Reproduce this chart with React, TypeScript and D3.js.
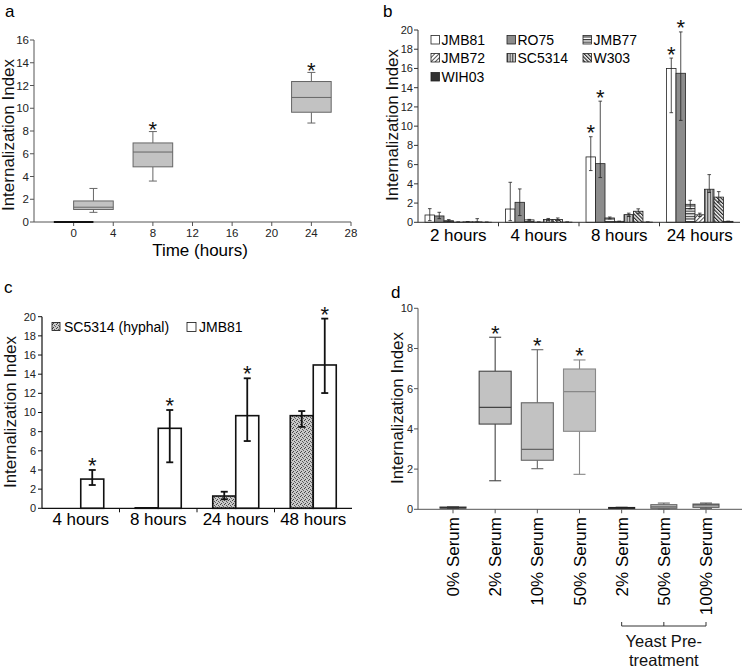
import React from 'react';
import * as d3 from 'd3';

const FONT = '"Liberation Sans", Arial, Helvetica, sans-serif';

// ---------- Panel a: box plots over time ----------
const aTimes = [0, 2, 8, 24];
const aLow = [0, 0.85, 3.6, 8.7];
const aQ1 = [0, 1.1, 4.85, 9.65];
const aMedian = [0, 1.3, 6.15, 10.95];
const aQ3 = [0, 1.85, 6.95, 12.35];
const aHigh = [0, 2.95, 7.95, 13.15];
const aStars = [false, false, true, true];
const aYTicks = [0, 2, 4, 6, 8, 10, 12, 14, 16];
const aXTicks = [0, 4, 8, 12, 16, 20, 24, 28];

// ---------- Panel b: strains over time ----------
const bTimes = ['2 hours', '4 hours', '8 hours', '24 hours'];
const bStrains = ['JMB81', 'RO75', 'JMB77', 'JMB72', 'SC5314', 'W303', 'WIH03'];
const bJMB81 = [0.76, 1.38, 6.8, 16.0];
const bRO75 = [0.66, 2.08, 6.1, 15.5];
const bJMB77 = [0.17, 0.25, 0.45, 1.87];
const bJMB72 = [0.02, 0.02, 0.1, 0.78];
const bSC5314 = [0.05, 0.3, 0.8, 3.44];
const bW303 = [0.05, 0.3, 1.15, 2.62];
const bWIH03 = [0.01, 0.02, 0.02, 0.1];
const bJMB81Lo = [0.17, 0.17, 5.38, 11.4];
const bJMB81Hi = [1.42, 4.16, 8.9, 17.08];
const bRO75Lo = [0.38, 0.7, 4.65, 10.6];
const bRO75Hi = [1.04, 3.47, 12.6, 19.8];
const bJMB77Lo = [0.1, 0.2, 0.35, 1.4];
const bJMB77Hi = [0.28, 0.3, 0.55, 2.29];
const bJMB72Lo = [0.02, 0.02, 0.08, 0.6];
const bJMB72Hi = [0.03, 0.03, 0.12, 0.95];
const bSC5314Lo = [0.04, 0.2, 0.6, 3.1];
const bSC5314Hi = [0.08, 0.4, 0.95, 4.96];
const bW303Lo = [0.04, 0.2, 0.9, 2.1];
const bW303Hi = [0.38, 0.45, 1.4, 3.19];
const bWIH03Lo = [0.01, 0.02, 0.02, 0.08];
const bWIH03Hi = [0.02, 0.03, 0.03, 0.12];
const bStarJMB81 = [false, false, true, true];
const bStarRO75 = [false, false, true, true];
const bYTicks = [0, 2, 4, 6, 8, 10, 12, 14, 16, 18, 20];

// ---------- Panel c: hyphal vs JMB81 ----------
const cTimes = ['4 hours', '8 hours', '24 hours', '48 hours'];
const cSeries = ['SC5314 (hyphal)', 'JMB81'];
const cSC5314 = [0, 0.05, 1.28, 9.67];
const cSC5314Lo = [null, null, 0.94, 8.5];
const cSC5314Hi = [null, null, 1.73, 10.15];
const cJMB81 = [3.05, 8.35, 9.67, 14.96];
const cJMB81Lo = [2.43, 4.8, 7.02, 12.03];
const cJMB81Hi = [4.0, 10.26, 13.57, 19.8];
const cStarJMB81 = [true, true, true, true];
const cYTicks = [0, 2, 4, 6, 8, 10, 12, 14, 16, 18, 20];

// ---------- Panel d: serum box plots ----------
const dLabels = ['0% Serum', '2% Serum', '10% Serum', '50% Serum', '2% Serum', '50% Serum', '100% Serum'];
const dLow = [0.05, 1.42, 2.02, 1.74, 0.04, 0.02, 0.05];
const dQ1 = [0.06, 4.24, 2.44, 3.88, 0.05, 0.05, 0.1];
const dMedian = [0.08, 5.07, 2.98, 5.85, 0.06, 0.12, 0.22];
const dQ3 = [0.11, 6.87, 5.3, 6.98, 0.09, 0.23, 0.26];
const dHigh = [0.12, 8.56, 7.94, 7.43, 0.1, 0.31, 0.31];
const dStars = [false, true, true, true, false, false, false];
const dYTicks = [0, 2, 4, 6, 8, 10];
const dBracketGroup = [4, 5, 6];

function Star({ x, y }: { x: number; y: number }) {
  // y is the visual centre of the asterisk
  return (
    <text x={x} y={y + 12.5} textAnchor="middle" fontSize={22} fontFamily={FONT} fill="#111" stroke="none">
      *
    </text>
  );
}

function YTitle({ x, y }: { x: number; y: number }) {
  return (
    <text
      transform={`translate(${x},${y}) rotate(-90)`}
      textAnchor="middle"
      fontSize={17}
      fontFamily={FONT}
      fill="#111"
    >
      Internalization Index
    </text>
  );
}

function PanelA() {
  const x = d3.scaleLinear().domain([-4, 28]).range([34, 351]);
  const y = d3.scaleLinear().domain([0, 16]).range([222, 40]);
  const half = (x(4) - x(0)) / 2;
  const cap = 4;
  const ax = '#555';
  return (
    <g>
      <text x={5} y={17} fontSize={17} fontFamily={FONT}>a</text>
      <YTitle x={14} y={135} />
      <line x1={x(-4)} x2={x(-4)} y1={y(0)} y2={y(16)} stroke={ax} />
      <line x1={x(-4)} x2={x(28)} y1={y(0)} y2={y(0)} stroke={ax} />
      {aYTicks.map((t) => (
        <g key={t}>
          <line x1={x(-4) - 4} x2={x(-4)} y1={y(t)} y2={y(t)} stroke={ax} />
          <text x={x(-4) - 5} y={y(t)} dy="0.35em" textAnchor="end" fontSize={11.5} fontFamily={FONT} fill="#222">{t}</text>
        </g>
      ))}
      {aXTicks.map((t) => (
        <g key={t}>
          <line x1={x(t)} x2={x(t)} y1={y(0)} y2={y(0) + 4} stroke={ax} />
          <text x={x(t)} y={y(0) + 15} textAnchor="middle" fontSize={11.5} fontFamily={FONT} fill="#222">{t}</text>
        </g>
      ))}
      <text x={200} y={256} textAnchor="middle" fontSize={17} fontFamily={FONT}>Time (hours)</text>
      {aTimes.map((t, i) => {
        const cx = x(t);
        const flat = aQ3[i] - aQ1[i] < 0.01;
        if (flat) {
          return <line key={t} x1={cx - half} x2={cx + half} y1={y(aMedian[i])} y2={y(aMedian[i])} stroke="#111" strokeWidth={2} />;
        }
        return (
          <g key={t} stroke="#666" strokeWidth={1}>
            <line x1={cx} x2={cx} y1={y(aHigh[i])} y2={y(aQ3[i])} />
            <line x1={cx} x2={cx} y1={y(aQ1[i])} y2={y(aLow[i])} />
            <line x1={cx - cap} x2={cx + cap} y1={y(aHigh[i])} y2={y(aHigh[i])} />
            <line x1={cx - cap} x2={cx + cap} y1={y(aLow[i])} y2={y(aLow[i])} />
            <rect x={cx - half} y={y(aQ3[i])} width={2 * half} height={y(aQ1[i]) - y(aQ3[i])} fill="#c2c2c2" />
            <line x1={cx - half} x2={cx + half} y1={y(aMedian[i])} y2={y(aMedian[i])} />
            {aStars[i] && <Star x={cx} y={y(aHigh[i]) - 7} />}
          </g>
        );
      })}
    </g>
  );
}

const bFills = ['#ffffff', '#8c8c8c', 'url(#hlines)', 'url(#diagR)', 'url(#vlines)', 'url(#diagL)', '#333333'];

function PanelB() {
  const x0 = d3.scaleBand<string>().domain(bTimes).range([418, 740]);
  const x1 = d3.scaleBand<string>().domain(bStrains).range([0, x0.bandwidth()]).paddingInner(0).paddingOuter(0.74);
  const y = d3.scaleLinear().domain([0, 20]).range([222.3, 30]);
  const values = [bJMB81, bRO75, bJMB77, bJMB72, bSC5314, bW303, bWIH03];
  const lows = [bJMB81Lo, bRO75Lo, bJMB77Lo, bJMB72Lo, bSC5314Lo, bW303Lo, bWIH03Lo];
  const highs = [bJMB81Hi, bRO75Hi, bJMB77Hi, bJMB72Hi, bSC5314Hi, bW303Hi, bWIH03Hi];
  const stars = [bStarJMB81, bStarRO75];
  const ax = '#333';
  const bw = x1.bandwidth();
  const legendCols = [431, 507, 583];
  const legendRows = [40, 58, 77];
  return (
    <g>
      <text x={383} y={17} fontSize={17} fontFamily={FONT}>b</text>
      <YTitle x={398} y={125} />
      {bStrains.map((s, si) =>
        bTimes.map((t, ti) => {
          const v = values[si][ti];
          const bx = (x0(t) as number) + (x1(s) as number);
          return (
            <rect key={s + t} x={bx} y={y(v)} width={bw} height={y(0) - y(v)} fill={bFills[si]} stroke="#222" strokeWidth={0.8} />
          );
        })
      )}
      {bStrains.map((s, si) =>
        bTimes.map((t, ti) => {
          const cx = (x0(t) as number) + (x1(s) as number) + bw / 2;
          const lo = lows[si][ti];
          const hi = highs[si][ti];
          return (
            <g key={'e' + s + t} stroke="#222" strokeWidth={0.8}>
              <line x1={cx} x2={cx} y1={y(lo)} y2={y(hi)} />
              <line x1={cx - 1.8} x2={cx + 1.8} y1={y(hi)} y2={y(hi)} />
              <line x1={cx - 1.8} x2={cx + 1.8} y1={y(lo)} y2={y(lo)} />
              {si < 2 && stars[si][ti] && <Star x={cx} y={y(hi) - 9} />}
            </g>
          );
        })
      )}
      <line x1={418} x2={418} y1={y(0)} y2={y(20)} stroke={ax} />
      <line x1={418} x2={740} y1={y(0)} y2={y(0)} stroke={ax} />
      {bYTicks.map((t) => (
        <g key={t}>
          <line x1={414} x2={418} y1={y(t)} y2={y(t)} stroke={ax} />
          <text x={413} y={y(t)} dy="0.35em" textAnchor="end" fontSize={11} fontFamily={FONT} fill="#222">{t}</text>
        </g>
      ))}
      {bTimes.map((t, i) => (
        <g key={t}>
          {i > 0 && <line x1={x0(t)} x2={x0(t)} y1={y(0)} y2={y(0) + 4} stroke={ax} />}
          <text x={(x0(t) as number) + x0.bandwidth() / 2} y={241} textAnchor="middle" fontSize={17} fontFamily={FONT}>{t}</text>
        </g>
      ))}
      {bStrains.map((s, si) => {
        const lx = legendCols[si % 3];
        const ly = legendRows[Math.floor(si / 3)];
        return (
          <g key={'l' + s}>
            <rect x={lx} y={ly - 4.5} width={8.5} height={8.5} fill={bFills[si]} stroke="#222" strokeWidth={0.8} />
            <text x={lx + 10.5} y={ly} dy="0.36em" fontSize={14} fontFamily={FONT}>{s}</text>
          </g>
        );
      })}
    </g>
  );
}

function PanelC() {
  const x0 = d3.scaleBand<string>().domain(cTimes).range([42, 352]);
  const x1 = d3.scaleBand<string>().domain(cSeries).range([0, x0.bandwidth()]).paddingInner(0).paddingOuter(0.685);
  const y = d3.scaleLinear().domain([0, 20]).range([508.3, 316.7]);
  const bw = x1.bandwidth();
  const values = [cSC5314, cJMB81];
  const lows = [cSC5314Lo, cJMB81Lo];
  const highs = [cSC5314Hi, cJMB81Hi];
  const fills = ['url(#speckle)', '#ffffff'];
  return (
    <g>
      <text x={4} y={293} fontSize={17} fontFamily={FONT}>c</text>
      <YTitle x={16} y={412} />
      {cSeries.map((s, si) =>
        cTimes.map((t, ti) => {
          const v = values[si][ti];
          if (v <= 0) return null;
          const bx = (x0(t) as number) + (x1(s) as number);
          return <rect key={s + t} x={bx} y={y(v)} width={bw} height={y(0) - y(v)} fill={fills[si]} stroke="#111" strokeWidth={1.6} />;
        })
      )}
      {cSeries.map((s, si) =>
        cTimes.map((t, ti) => {
          const lo = lows[si][ti];
          const hi = highs[si][ti];
          if (lo == null || hi == null) return null;
          const cx = (x0(t) as number) + (x1(s) as number) + bw / 2;
          return (
            <g key={'e' + s + t} stroke="#111" strokeWidth={1.8}>
              <line x1={cx} x2={cx} y1={y(lo)} y2={y(hi)} />
              <line x1={cx - 3.5} x2={cx + 3.5} y1={y(hi)} y2={y(hi)} />
              <line x1={cx - 3.5} x2={cx + 3.5} y1={y(lo)} y2={y(lo)} />
              {si === 1 && cStarJMB81[ti] && <Star x={cx} y={y(hi) - 9.3} />}
            </g>
          );
        })
      )}
      <line x1={42} x2={42} y1={y(0)} y2={y(20)} stroke="#111" strokeWidth={1.2} />
      <line x1={42} x2={352} y1={y(0)} y2={y(0)} stroke="#111" strokeWidth={1.2} />
      {cYTicks.map((t) => (
        <g key={t}>
          <line x1={38} x2={42} y1={y(t)} y2={y(t)} stroke="#111" />
          <text x={36} y={y(t)} dy="0.35em" textAnchor="end" fontSize={11} fontFamily={FONT} fill="#222">{t}</text>
        </g>
      ))}
      {cTimes.map((t, i) => (
        <g key={t}>
          {i > 0 && <line x1={x0(t)} x2={x0(t)} y1={y(0)} y2={y(0) + 4} stroke="#111" />}
          <text x={(x0(t) as number) + x0.bandwidth() / 2} y={525} textAnchor="middle" fontSize={17} fontFamily={FONT}>{t}</text>
        </g>
      ))}
      <rect x={52} y={322.5} width={8} height={8} fill="url(#speckle)" stroke="#111" strokeWidth={0.8} />
      <text x={64} y={326.7} dy="0.36em" fontSize={14} fontFamily={FONT}>{cSeries[0]}</text>
      <rect x={187} y={322.5} width={9} height={9} fill="#fff" stroke="#111" strokeWidth={0.8} />
      <text x={199} y={326.7} dy="0.36em" fontSize={14} fontFamily={FONT}>{cSeries[1]}</text>
    </g>
  );
}

function PanelD() {
  const idx = dLabels.map((_, i) => String(i));
  const x = d3.scalePoint<string>().domain(idx).range([453, 706]);
  const y = d3.scaleLinear().domain([0, 10]).range([509.3, 308.3]);
  const ax = '#555';
  const cap = 6;
  const strokes = ['#333', '#444', '#666', '#888', '#222', '#666', '#555'];
  return (
    <g>
      <text x={391} y={298} fontSize={17} fontFamily={FONT}>d</text>
      <YTitle x={403} y={408} />
      {dLabels.map((l, i) => {
        const cx = x(String(i)) as number;
        const half = dQ3[i] - dQ1[i] > 1 ? 16 : 13;
        const st = strokes[i];
        return (
          <g key={i} stroke={st} strokeWidth={1.1}>
            <line x1={cx} x2={cx} y1={y(dHigh[i])} y2={y(dQ3[i])} />
            <line x1={cx} x2={cx} y1={y(dQ1[i])} y2={y(dLow[i])} />
            <line x1={cx - cap} x2={cx + cap} y1={y(dHigh[i])} y2={y(dHigh[i])} />
            <line x1={cx - cap} x2={cx + cap} y1={y(dLow[i])} y2={y(dLow[i])} />
            <rect x={cx - half} y={y(dQ3[i])} width={2 * half} height={Math.max(1, y(dQ1[i]) - y(dQ3[i]))} fill="#c2c2c2" />
            <line x1={cx - half} x2={cx + half} y1={y(dMedian[i])} y2={y(dMedian[i])} strokeWidth={1.3} />
            {dStars[i] && <Star x={cx} y={y(dHigh[i]) - 9} />}
          </g>
        );
      })}
      <line x1={418} x2={418} y1={y(0)} y2={y(10)} stroke={ax} />
      <line x1={418} x2={742} y1={y(0)} y2={y(0)} stroke={ax} />
      {dYTicks.map((t) => (
        <g key={t}>
          <line x1={414} x2={418} y1={y(t)} y2={y(t)} stroke={ax} />
          <text x={413} y={y(t)} dy="0.35em" textAnchor="end" fontSize={11} fontFamily={FONT} fill="#222">{t}</text>
        </g>
      ))}
      {dLabels.map((l, i) => {
        const cx = x(String(i)) as number;
        return (
          <g key={'t' + i}>
            <line x1={cx} x2={cx} y1={y(0)} y2={y(0) + 4} stroke={ax} />
            <text
              transform={`translate(${cx},${517}) rotate(-90)`}
              textAnchor="end"
              dy="0.36em"
              fontSize={17}
              fontFamily={FONT}
            >
              {l}
            </text>
          </g>
        );
      })}
      {(() => {
        const xs = dBracketGroup.map((i) => x(String(i)) as number);
        const by = 626;
        return (
          <g stroke="#333" strokeWidth={1}>
            <line x1={xs[0]} x2={xs[xs.length - 1]} y1={by} y2={by} />
            {xs.map((bx, k) => (
              <line key={k} x1={bx} x2={bx} y1={by} y2={by - 4} />
            ))}
            <text x={xs[1]} y={647} textAnchor="middle" fontSize={16.5} fontFamily={FONT} stroke="none" fill="#111">Yeast Pre-</text>
            <text x={xs[1]} y={666} textAnchor="middle" fontSize={16.5} fontFamily={FONT} stroke="none" fill="#111">treatment</text>
          </g>
        );
      })()}
    </g>
  );
}

export default function App() {
  return (
    <svg
      width={742}
      height={670}
      viewBox="0 0 742 670"
      style={{ position: 'absolute', left: 0, top: 0, background: '#fff' }}
      fontFamily={FONT}
    >
      <defs>
        <pattern id="hlines" width="4" height="2.6" patternUnits="userSpaceOnUse">
          <rect width="4" height="2.6" fill="#fff" />
          <rect y="0" width="4" height="1.2" fill="#333" />
        </pattern>
        <pattern id="vlines" width="2.6" height="4" patternUnits="userSpaceOnUse">
          <rect width="2.6" height="4" fill="#ddd" />
          <rect x="0" width="1.2" height="4" fill="#444" />
        </pattern>
        <pattern id="diagR" width="3" height="3" patternUnits="userSpaceOnUse" patternTransform="rotate(45)">
          <rect width="3" height="3" fill="#fff" />
          <rect width="1" height="3" fill="#555" />
        </pattern>
        <pattern id="diagL" width="2.6" height="2.6" patternUnits="userSpaceOnUse" patternTransform="rotate(-45)">
          <rect width="2.6" height="2.6" fill="#fff" />
          <rect width="1.2" height="2.6" fill="#222" />
        </pattern>
        <pattern id="speckle" width="4" height="4" patternUnits="userSpaceOnUse">
          <rect width="4" height="4" fill="#c8c8c8" />
          <rect x="0" y="0" width="1" height="1" fill="#444" />
          <rect x="2" y="1" width="1" height="1" fill="#555" />
          <rect x="1" y="3" width="1" height="1" fill="#444" />
          <rect x="3" y="2" width="1" height="1" fill="#666" />
        </pattern>
      </defs>
      <rect width={742} height={670} fill="#fff" />
      <PanelA />
      <PanelB />
      <PanelC />
      <PanelD />
    </svg>
  );
}
